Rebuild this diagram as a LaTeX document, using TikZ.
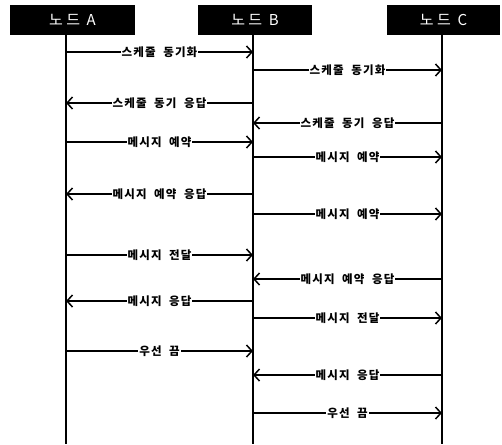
\documentclass[tikz,border=0pt]{standalone}
\usepackage{fontspec}
\newfontfamily\krhead{Noto Sans CJK KR}[LetterSpace=22]
\newfontfamily\krlbl{Noto Sans CJK KR}[LetterSpace=10,WordSpace=2]
\usetikzlibrary{arrows.meta}
\begin{document}
\begin{tikzpicture}[x=1pt,y=-1pt,
  head/.style={fill=black,text=white,minimum height=30pt,inner sep=0pt,
    font=\krhead\fontsize{15}{15}\selectfont},
  life/.style={line width=2pt},
  msg/.style={line width=1.5pt,-{Straight Barb[length=5.5pt,width=12pt,line width=1.5pt]}},
  lbl/.style={fill=white,inner sep=1pt,
    font=\krlbl\bfseries\fontsize{11.5}{12}\selectfont}]
\useasboundingbox (0,0) rectangle (502,444);
\node[head,minimum width=125pt] (A) at (72.5,20) {노드 A};
\node[head,minimum width=114pt] (B) at (255,20) {노드 B};
\node[head,minimum width=113pt] (C) at (443.5,20) {노드 C};
\coordinate (At) at (66,35);  \coordinate (Ab) at (66,444);
\coordinate (Bt) at (253,35); \coordinate (Bb) at (253,444);
\coordinate (Ct) at (442,35); \coordinate (Cb) at (442,444);
\draw[life] (At) -- (Ab);
\draw[life] (Bt) -- (Bb);
\draw[life] (Ct) -- (Cb);
\foreach \i/\y/\xs/\xe/\l in {
  1/52/66/253/스케줄 동기화,
  2/70/253/442/스케줄 동기화,
  3/103/253/66/스케줄 동기 응답,
  4/123/442/253/스케줄 동기 응답,
  5/142/66/253/메시지 예약,
  6/157/253/442/메시지 예약,
  7/194/253/66/메시지 예약 응답,
  8/214/253/442/메시지 예약,
  9/255/66/253/메시지 전달,
  10/279/442/253/메시지 예약 응답,
  11/301/253/66/메시지 응답,
  12/318/253/442/메시지 전달,
  13/351/66/253/우선 끔,
  14/375/442/253/메시지 응답,
  15/413/253/442/우선 끔}{
  \coordinate (m\i s) at (\xs,\y);
  \coordinate (m\i e) at (\xe,\y);
  \draw[msg] (m\i s) -- node[lbl] (l\i) {\l} (m\i e);
}
\end{tikzpicture}
\end{document}
